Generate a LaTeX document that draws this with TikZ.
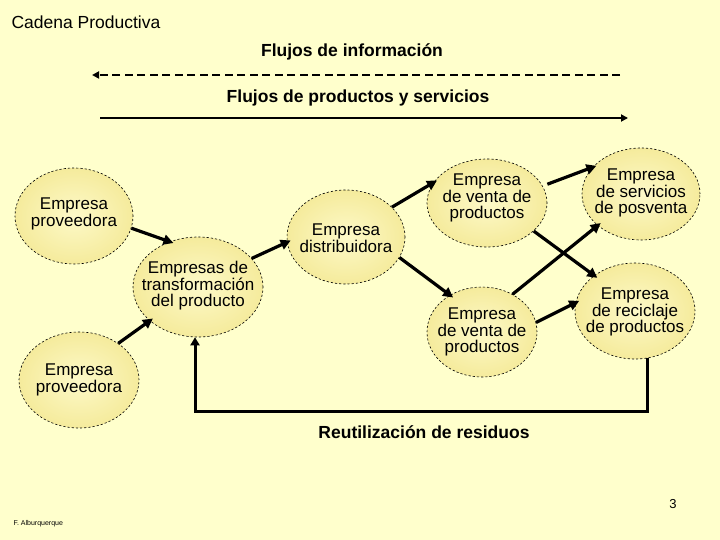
\documentclass[tikz,border=0pt]{standalone}
\usepackage{fontspec}
\setmainfont{Liberation Sans}
\usepackage{tikz}
\usetikzlibrary{arrows.meta,shapes.geometric,calc}

\definecolor{paper}{HTML}{FFFFCC}
\definecolor{bubin}{HTML}{FDF9C8}
\definecolor{bubout}{HTML}{F5EB9C}

\tikzset{
  bub/.style={ellipse,draw,line width=0.6pt,dash pattern=on 2.2pt off 2pt,
    inner color=bubin,outer color=bubout,inner sep=0pt},
  txt/.style={align=center,font=\fontsize{17}{16.5}\selectfont},
  flow/.style={line width=3.2pt,-{Triangle[length=10pt,width=10pt]},shorten >=-4pt},
  head/.style={font=\fontsize{17.5}{20}\selectfont\bfseries},
}

\begin{document}
\begin{tikzpicture}[x=1pt,y=-1pt]
\fill[paper] (0,0) rectangle (720,540);
\useasboundingbox (0,0) rectangle (720,540);

\node[anchor=west,font=\fontsize{17.5}{20}\selectfont] (title) at (8,22) {Cadena Productiva};

% flujos
\node[head] (info) at (352,52) {Flujos de información};
\coordinate (infoR) at (620,75);
\coordinate (infoL) at (92,75);
\draw[line width=2pt,dash pattern=on 8pt off 4.5pt,-{Triangle[length=7pt,width=7pt]}] (infoR) -- (infoL);
\node[head] (prod) at (358,98) {Flujos de productos y servicios};
\coordinate (prodL) at (100,118);
\coordinate (prodR) at (628,118);
\draw[line width=2pt,-{Triangle[length=7pt,width=7pt]}] (prodL) -- (prodR);

% empresas
\node[bub,minimum width=118,minimum height=96] (p1) at (74,216) {};
\node[txt] (p1t) at (74,214) {Empresa\\proveedora};
\node[bub,minimum width=130,minimum height=100] (tra) at (198,287) {};
\node[txt] (trat) at (198,286) {Empresas de\\transformación\\del producto};
\node[bub,minimum width=120,minimum height=96] (p2) at (79,380) {};
\node[txt] (p2t) at (79,380) {Empresa\\proveedora};
\node[bub,minimum width=118,minimum height=94] (dis) at (346,237) {};
\node[txt] (dist) at (346,238) {Empresa\\distribuidora};
\node[bub,minimum width=120,minimum height=88] (v1) at (487,203) {};
\node[txt] (v1t) at (487,198) {Empresa\\de venta de\\productos};
\node[bub,minimum width=118,minimum height=92] (ser) at (641,194) {};
\node[txt] (sert) at (641,193) {Empresa\\de servicios\\de posventa};
\node[bub,minimum width=110,minimum height=90] (v2) at (482,332) {};
\node[txt] (v2t) at (482,332) {Empresa\\de venta de\\productos};
\node[bub,minimum width=120,minimum height=96] (rec) at (635,311) {};
\node[txt] (rect) at (635,312) {Empresa\\de reciclaje\\de productos};

% flechas
\draw[flow] (p1.-12) -- (tra.122);
\draw[flow] (p2.43) -- (tra.215);
\draw[flow] (tra.28) -- (dis.185);
\draw[flow] (dis.33) -- (v1.159);
\draw[flow] (dis.-21) -- (v2.131);
\draw[flow] (v1.-31) -- (rec.139);
\draw[flow] (v2.51) -- (ser.216);
\draw[flow,shorten <=5pt] (v1.17) -- (ser.151);
\draw[flow] (v2.10) -- (rec.172);

% residuos
\coordinate (fb) at (195,411);
\draw[line width=3pt,-{Triangle[length=8pt,width=9pt]}] (rec.-75) |- (fb) -- (fb |- tra.south);
\node[head] (reu) at (424,432) {Reutilización de residuos};

\node[font=\fontsize{13}{15}\selectfont] (num) at (673,504) {3};
\node[anchor=west,font=\fontsize{7}{8}\selectfont] (aut) at (10,524) {F. Alburquerque};
\end{tikzpicture}
\end{document}
